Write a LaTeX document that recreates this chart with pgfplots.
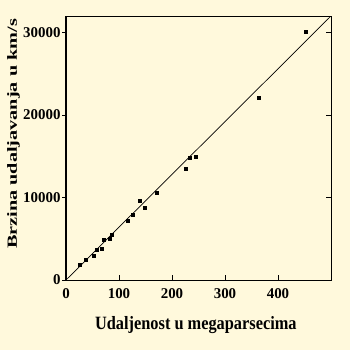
\documentclass[border=0pt]{standalone}
\usepackage{pgfplots}
\pgfplotsset{compat=1.18}
\usepackage{fontspec}
\setmainfont{Liberation Serif}
\definecolor{bg}{RGB}{255,249,220}
\begin{document}
\begin{tikzpicture}[x=1bp,y=1bp]
\fill[bg] (-66,-70) rectangle (284,280);
\begin{axis}[
  at={(0,0)}, anchor=south west,
  scale only axis, width=265bp, height=264bp,
  xmin=0, xmax=500, ymin=0, ymax=32000,
  axis line style={line width=1pt},
  tick align=inside,
  major tick length=5bp,
  xtick={0,100,200,300,400},
  ytick={0,10000,20000,30000},
  xtick pos=bottom,
  ytick pos=right,
  yticklabel pos=left,
  scaled ticks=false,
  /pgf/number format/assume math mode=true,
  /pgf/number format/set thousands separator={},
  tick label style={font=\fontsize{15}{15}\selectfont\bfseries},
  xticklabel style={yshift=-5bp},
  yticklabel style={xshift=-2bp},
  tick style={line width=0.9pt, black},
  xlabel={\scalebox{1}[1.15]{\fontsize{16.4}{16}\selectfont\bfseries Udaljenost u megaparsecima}},
  xlabel style={at={(rel axis cs:0.49,0)}, anchor=base, yshift=-49bp},
  ylabel={\scalebox{1.45}[1]{\fontsize{14}{14}\selectfont\bfseries Brzina udaljavanja u km/s}},
  ylabel style={at={(rel axis cs:0,0.553)}, anchor=base, rotate=0, yshift=49bp},
]
\addplot[black, line width=0.7pt, no marks] coordinates {(0,0) (500,32000)};
\addplot[only marks, mark=square*, mark size=1.5pt, black] coordinates {
(26.6,1900) (38,2420) (51.8,2940) (58,3630) (67.7,3840) (70.8,4930)
(82,5000) (86.7,5450) (116,7180) (126.5,7870) (139,9650) (148,8800)
(170.8,10620) (226,13480) (234,14810) (244,14900) (363,22070) (452,30060)
};
\end{axis}
\begin{axis}[
  at={(0,0)}, anchor=south west,
  scale only axis, width=265bp, height=264bp,
  xmin=0, xmax=500, ymin=0, ymax=32000,
  hide x axis, axis y line*=left,
  scaled ticks=false,
  axis line style={line width=1pt},
  tick align=outside, major tick length=3.5bp,
  ytick={0,10000,20000,30000}, yticklabels={},
  tick style={line width=0.9pt, black},
]
\end{axis}
\end{tikzpicture}
\end{document}
